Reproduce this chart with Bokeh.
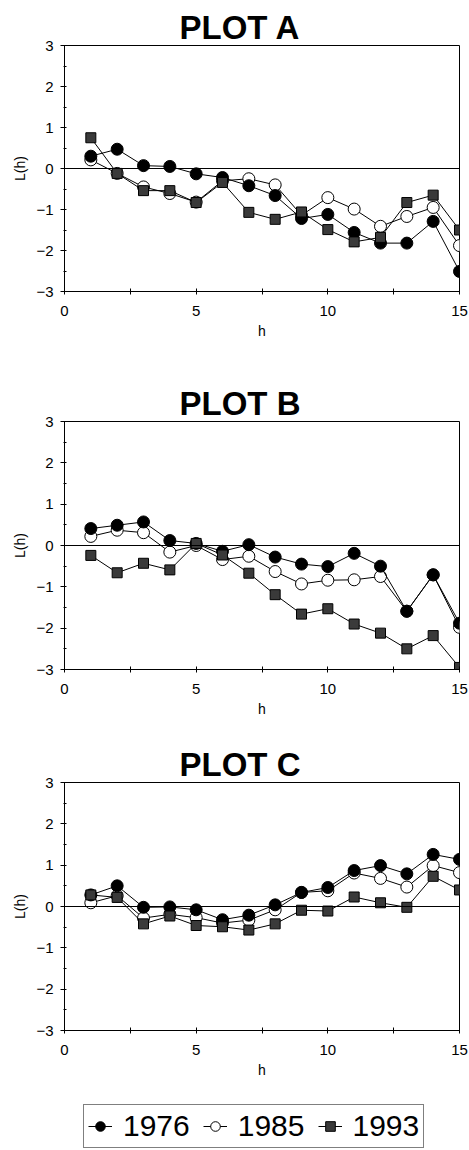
from bokeh.plotting import figure
from bokeh.layouts import column
from bokeh.models import Span, FixedTicker, Legend, LegendItem, Range1d
from bokeh.embed import file_html
from bokeh.resources import INLINE

# ---------------- data ----------------
h = list(range(1, 16))
years = ["1976", "1985", "1993"]

a_1976 = [0.30, 0.47, 0.07, 0.05, -0.13, -0.22, -0.42, -0.66, -1.22, -1.12, -1.56, -1.82, -1.82, -1.29, -2.51]
a_1985 = [0.21, -0.12, -0.45, -0.61, -0.82, -0.30, -0.25, -0.40, -1.14, -0.71, -0.99, -1.41, -1.17, -0.95, -1.88]
a_1993 = [0.75, -0.12, -0.54, -0.54, -0.83, -0.34, -1.07, -1.24, -1.06, -1.49, -1.79, -1.68, -0.83, -0.65, -1.50]

b_1976 = [0.41, 0.49, 0.57, 0.12, 0.05, -0.14, 0.02, -0.28, -0.45, -0.51, -0.19, -0.50, -1.59, -0.71, -1.88]
b_1985 = [0.22, 0.37, 0.31, -0.16, 0.00, -0.34, -0.26, -0.63, -0.93, -0.84, -0.83, -0.75, -1.59, -0.71, -1.98]
b_1993 = [-0.24, -0.66, -0.43, -0.59, 0.05, -0.23, -0.67, -1.19, -1.66, -1.53, -1.90, -2.12, -2.50, -2.18, -2.95]

c_1976 = [0.28, 0.50, -0.02, -0.01, -0.08, -0.32, -0.21, 0.04, 0.34, 0.46, 0.87, 0.99, 0.79, 1.26, 1.14]
c_1985 = [0.09, 0.26, -0.28, -0.19, -0.27, -0.40, -0.33, -0.08, 0.34, 0.38, 0.81, 0.68, 0.47, 0.99, 0.82]
c_1993 = [0.28, 0.22, -0.42, -0.23, -0.46, -0.49, -0.57, -0.42, -0.09, -0.11, 0.23, 0.09, -0.02, 0.73, 0.40]

x_ticks = [0, 5, 10, 15]
x_minor_ticks = [2.5, 7.5, 12.5]
y_ticks = [-3, -2, -1, 0, 1, 2, 3]
y_minor_ticks = [-2.5, -1.5, -0.5, 0.5, 1.5, 2.5]

titles = ["PLOT A", "PLOT B", "PLOT C"]

FONT = "Liberation Sans"

# ---------------- styles ----------------
styles = {
    "1976": dict(marker="circle", size=12, fill_color="black", line_color="black"),
    "1985": dict(marker="circle", size=12, fill_color="white", line_color="black"),
    "1993": dict(marker="square", size=10, fill_color="#3a3a3a", line_color="black",
                 hatch_pattern="checker", hatch_color="#9a9a9a", hatch_scale=3.0),
}
draw_order = ["1985", "1976", "1993"]


def make_plot(title, series, height, top, bottom):
    p = figure(width=469, height=height, x_range=Range1d(0, 15), y_range=Range1d(-3, 3),
               output_backend="svg", toolbar_location=None,
               min_border_left=64, min_border_right=10,
               min_border_top=top, min_border_bottom=bottom,
               background_fill_color="white", border_fill_color="white")
    p.title.text = title
    p.title.align = "left"
    p.title.offset = 115
    p.title.standoff = 0
    p.title.text_font = FONT
    p.title.text_font_size = "33px"
    p.title.text_font_style = "bold"
    p.title.text_color = "black"

    p.xgrid.visible = False
    p.ygrid.visible = False
    p.outline_line_color = "black"
    p.outline_line_width = 1

    for ax in (p.xaxis[0], p.yaxis[0]):
        ax.axis_line_color = "black"
        ax.major_tick_line_color = "black"
        ax.minor_tick_line_color = "black"
        ax.major_label_text_font = FONT
        ax.major_label_text_font_size = "15px"
        ax.major_label_text_color = "black"
        ax.axis_label_text_font = FONT
        ax.axis_label_text_font_size = "14px"
        ax.axis_label_text_font_style = "normal"
        ax.axis_label_text_color = "black"

    p.xaxis.ticker = FixedTicker(ticks=x_ticks, minor_ticks=x_minor_ticks)
    p.xaxis.major_tick_in = 3
    p.xaxis.major_tick_out = 3
    p.xaxis.minor_tick_in = 3
    p.xaxis.minor_tick_out = 3
    p.xaxis.major_label_standoff = 11
    p.xaxis.axis_label = "h"
    p.xaxis.axis_label_standoff = 4

    p.yaxis.ticker = FixedTicker(ticks=y_ticks, minor_ticks=y_minor_ticks)
    p.yaxis.major_tick_in = 2
    p.yaxis.major_tick_out = 4
    p.yaxis.minor_tick_in = 2
    p.yaxis.minor_tick_out = 1
    p.yaxis.major_label_standoff = 7
    p.yaxis.axis_label = "L(h)"
    p.yaxis.axis_label_standoff = 5

    p.add_layout(Span(location=0, dimension="width", line_color="black", line_width=1))

    for yr in draw_order:
        p.line(h, series[yr], line_color="black", line_width=1)
        p.scatter(h, series[yr], line_width=1, **styles[yr])
    return p


series_c = {"1976": c_1976, "1985": c_1985, "1993": c_1993}
pa = make_plot(titles[0], {"1976": a_1976, "1985": a_1985, "1993": a_1993}, 360, 45, 69)
pb = make_plot(titles[1], {"1976": b_1976, "1985": b_1985, "1993": b_1993}, 365, 61, 56)
pc = make_plot(titles[2], series_c, 360, 57, 55)

# ---------------- legend ----------------
pl = figure(width=469, height=65, x_range=Range1d(0, 15), y_range=Range1d(-3, 3),
            output_backend="svg", toolbar_location=None,
            x_axis_location=None, y_axis_location=None,
            min_border=0, min_border_left=0, min_border_right=0,
            min_border_top=0, min_border_bottom=0,
            background_fill_color="white", border_fill_color="white")
pl.xgrid.visible = False
pl.ygrid.visible = False
pl.outline_line_color = None

items = []
for yr in years:
    lr = pl.line(h, series_c[yr], line_color="black", line_width=1, visible=False)
    sr = pl.scatter(h, series_c[yr], line_width=1, visible=False, **styles[yr])
    items.append(LegendItem(label=yr, renderers=[lr, sr]))

# the column aligns this frame with the plots above (frame left at ~64 px)
legend = Legend(items=items, orientation="horizontal", location=(19, 2),
                border_line_color="black", border_line_width=1.5,
                label_text_font=FONT, label_text_font_size="30px", label_text_color="black",
                glyph_width=24, glyph_height=28, label_standoff=11,
                spacing=13, padding=4, margin=0, background_fill_alpha=1.0)
pl.add_layout(legend, "center")

layout = column(pa, pb, pc, pl, spacing=0)

with open("out.html", "w") as f:
    f.write(file_html(layout, INLINE))
